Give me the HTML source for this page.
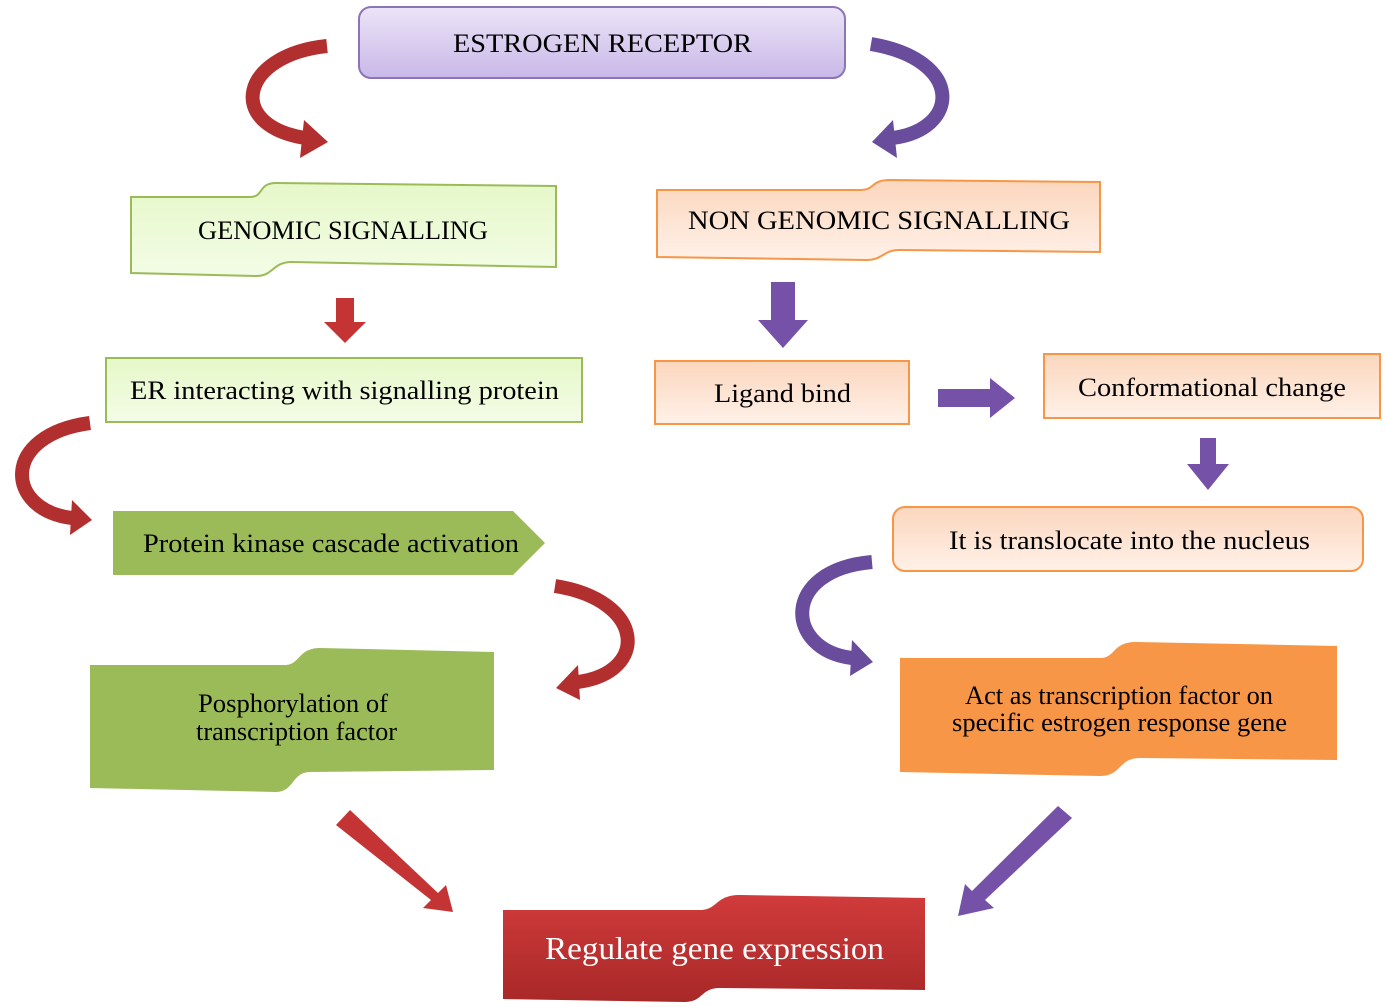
<!DOCTYPE html>
<html><head><meta charset="utf-8"><style>html,body{margin:0;padding:0;background:#fff}svg{display:block}text{font-family:"Liberation Serif",serif}</style></head><body>
<svg width="1386" height="1007" viewBox="0 0 1386 1007" xmlns="http://www.w3.org/2000/svg">
<defs>
<linearGradient id="pur" x1="0" y1="0" x2="0" y2="1"><stop offset="0" stop-color="#ece4f7"/><stop offset="1" stop-color="#c9b8e8"/></linearGradient>
<linearGradient id="grn" x1="0" y1="0" x2="0" y2="1"><stop offset="0" stop-color="#e6f8c9"/><stop offset="1" stop-color="#f3fce6"/></linearGradient>
<linearGradient id="pch" x1="0" y1="0" x2="0" y2="1"><stop offset="0" stop-color="#fbd6bd"/><stop offset="1" stop-color="#fff1e8"/></linearGradient>
<linearGradient id="redg" x1="0" y1="0" x2="0" y2="1"><stop offset="0" stop-color="#d13b3b"/><stop offset="1" stop-color="#a82828"/></linearGradient>
</defs>
<g font-size="26">
<rect x="359" y="7" width="486" height="71" rx="12" fill="url(#pur)" stroke="#8b74b8" stroke-width="2"/>
<text x="453" y="52" textLength="299" lengthAdjust="spacingAndGlyphs">ESTROGEN RECEPTOR</text>

<path d="M131,197 L250,197 C264,197 258,183 276,183 L556,186 L556,267 L292,262 C272,262 274,276 256,276 L131,273 Z" fill="url(#grn)" stroke="#9bbb59" stroke-width="2"/>
<text x="198" y="239" textLength="290" lengthAdjust="spacingAndGlyphs">GENOMIC SIGNALLING</text>

<path d="M657,190 L860,190 C876,190 870,180 890,180 L1100,182 L1100,252 L900,250 C882,250 884,260 866,260 L657,257 Z" fill="url(#pch)" stroke="#f79646" stroke-width="2"/>
<text x="688" y="229" textLength="382" lengthAdjust="spacingAndGlyphs">NON GENOMIC SIGNALLING</text>

<rect x="106" y="358" width="476" height="64" fill="url(#grn)" stroke="#9bbb59" stroke-width="2"/>
<text x="130" y="399" textLength="429" lengthAdjust="spacingAndGlyphs">ER interacting with signalling protein</text>

<rect x="655" y="361" width="254" height="63" fill="url(#pch)" stroke="#f79646" stroke-width="2"/>
<text x="714" y="402" textLength="137" lengthAdjust="spacingAndGlyphs">Ligand bind</text>

<rect x="1044" y="354" width="336" height="64" fill="url(#pch)" stroke="#f79646" stroke-width="2"/>
<text x="1078" y="396" textLength="268" lengthAdjust="spacingAndGlyphs">Conformational change</text>

<rect x="893" y="507" width="470" height="64" rx="12" fill="url(#pch)" stroke="#f79646" stroke-width="2"/>
<text x="949" y="549" textLength="361" lengthAdjust="spacingAndGlyphs">It is translocate into the nucleus</text>

<path d="M113,511 L513,511 L545,543 L513,575 L113,575 Z" fill="#9bbb59"/>
<text x="143" y="552" textLength="376" lengthAdjust="spacingAndGlyphs">Protein kinase cascade activation</text>

<path d="M90,665 L285,665 C300,665 298,648 320,648 L494,652 L494,770 L310,772 C292,772 294,792 276,792 L90,788 Z" fill="#9bbb59"/>
<text x="198" y="712" textLength="190" lengthAdjust="spacingAndGlyphs">Posphorylation of</text>
<text x="196" y="740" textLength="201" lengthAdjust="spacingAndGlyphs">transcription factor</text>

<path d="M900,658 L1100,658 C1116,658 1112,642 1136,642 L1337,646 L1337,760 L1140,758 C1118,758 1122,776 1100,776 L900,772 Z" fill="#f79646"/>
<text x="965" y="704" textLength="308" lengthAdjust="spacingAndGlyphs">Act as transcription factor on</text>
<text x="952" y="731" textLength="335" lengthAdjust="spacingAndGlyphs">specific estrogen response gene</text>
</g>
<path d="M503,910 L700,910 C718,910 715,895 740,895 L925,898 L925,990 L720,988 C700,988 704,1002 684,1002 L503,999 Z" fill="url(#redg)"/>
<text x="545" y="959" font-size="32" fill="#fff" textLength="339" lengthAdjust="spacingAndGlyphs">Regulate gene expression</text>

<g fill="none" stroke-linecap="butt">
<path d="M327,46 C240,55 225,125 305,138" stroke="#b22f2f" stroke-width="14"/>
<path d="M871,44 C965,60 960,130 892,138" stroke="#6a4c9c" stroke-width="14"/>
<path d="M90,423 C0,435 5,510 72,518" stroke="#b22f2f" stroke-width="14"/>
<path d="M555,586 C645,600 650,672 578,682" stroke="#b22f2f" stroke-width="14"/>
<path d="M872,562 C780,570 785,650 852,658" stroke="#6a4c9c" stroke-width="14"/>
</g>
<polygon points="304,120 328,142 300,158" fill="#b22f2f"/>
<polygon points="893,120 872,142 897,158" fill="#6a4c9c"/>
<polygon points="72,500 92,520 70,535" fill="#b22f2f"/>
<polygon points="578,665 556,688 580,700" fill="#b22f2f"/>
<polygon points="852,640 873,662 850,676" fill="#6a4c9c"/>

<polygon points="336,298 354,298 354,322 366,322 345,343 324,322 336,322" fill="#c53434"/>
<polygon points="771,282 795,282 795,320 808,320 783,348 758,320 771,320" fill="#7552a8"/>
<polygon points="938,389 990,389 990,378 1015,398 990,418 990,407 938,407" fill="#7552a8"/>
<polygon points="1200,438 1216,438 1216,464 1229,464 1208,490 1187,464 1200,464" fill="#7552a8"/>
<polygon points="336,825 350,810 438,893 446,885 453,912 423,908 431,900" fill="#c53434"/>
<polygon points="1058,806 1072,818 985,900 994,908 958,916 965,884 972,891" fill="#7552a8"/>
</svg>
</body></html>
